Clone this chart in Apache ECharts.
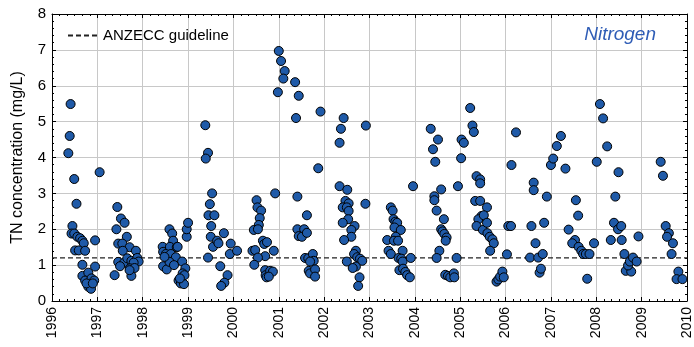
<!DOCTYPE html>
<html>
<head>
<meta charset="utf-8">
<script src="https://cdn.jsdelivr.net/npm/echarts@6/dist/echarts.min.js"></script>
<style>
html, body { margin: 0; padding: 0; background: #fff; }
#chart { width: 694px; height: 347px; }
</style>
</head>
<body>
<div id="chart"></div>
<script>
// TN samples: [decimal year, mg/L]
var samples = [
  // 1996
  [1996.41,5.49],[1996.39,4.60],[1996.36,4.12],[1996.49,3.40],[1996.54,2.71],[1996.45,2.09],
  [1996.43,1.88],[1996.49,1.88],[1996.56,1.79],[1996.62,1.75],[1996.67,1.68],[1996.70,1.61],
  [1996.51,1.41],[1996.59,1.41],[1996.73,1.40],[1996.95,1.69],[1996.67,1.01],[1996.95,0.96],
  [1996.67,0.70],[1996.80,0.79],[1996.73,0.57],[1996.87,0.63],[1996.93,0.57],[1996.80,0.40],
  [1996.86,0.34],[1996.76,0.49],[1996.90,0.49],
  // 1997
  [1997.05,3.59],[1997.38,0.72],[1997.44,2.62],[1997.52,2.30],[1997.60,2.18],[1997.42,2.00],
  [1997.65,1.79],[1997.46,1.60],[1997.55,1.60],[1997.71,1.50],[1997.56,1.40],[1997.85,1.40],
  [1997.46,1.09],[1997.59,1.07],[1997.66,1.19],[1997.75,1.12],[1997.88,1.20],[1997.91,1.10],
  [1997.80,1.07],[1997.50,0.97],[1997.72,0.91],[1997.82,0.92],[1997.75,0.70],[1997.71,0.86],
  // 1998
  [1998.44,1.51],[1998.45,1.37],[1998.59,2.00],[1998.65,1.88],[1998.67,1.68],[1998.60,1.51],
  [1998.75,1.50],[1998.51,1.31],[1998.62,1.31],[1998.73,1.22],[1998.87,1.10],[1998.45,0.97],
  [1998.53,0.88],[1998.59,1.09],[1998.69,1.00],[1998.94,0.91],[1998.88,0.77],[1998.79,0.57],
  [1998.84,0.49],[1998.91,0.47],[1998.92,0.72],[1998.82,0.63],[1998.97,1.79],[1998.97,2.00],
  [1999.00,2.18],[1998.48,1.23],[1998.77,1.51],
  // 1999
  [1999.44,1.21],[1999.38,4.90],[1999.44,4.13],[1999.39,3.97],[1999.53,3.00],[1999.48,2.70],
  [1999.45,2.39],[1999.58,2.39],[1999.51,2.09],[1999.50,1.79],[1999.55,1.51],[1999.64,1.68],
  [1999.67,1.61],[1999.79,1.89],[1999.71,0.97],[1999.87,0.72],[1999.80,0.51],[1999.73,0.42],
  [1999.94,1.60],[1999.92,1.31],
  // 2000
  [2000.08,1.40],[2000.51,2.81],[2000.53,2.61],[2000.61,2.52],[2000.58,2.31],[2000.56,2.12],
  [2000.45,1.98],[2000.54,2.00],[2000.65,1.68],[2000.68,1.59],[2000.42,1.40],[2000.48,1.42],
  [2000.70,1.25],[2000.54,1.21],[2000.46,1.01],[2000.70,0.86],[2000.71,0.72],[2000.73,0.66],
  [2000.74,1.64],[2000.89,1.40],[2000.81,0.84],[2000.87,0.82],[2000.78,0.68],[2000.92,3.00],
  [2000.98,5.82],
  // 2001
  [2001.00,6.97],[2001.05,6.69],[2001.13,6.41],[2001.10,6.20],[2001.36,6.10],[2001.44,5.72],
  [2001.38,5.10],[2001.92,5.28],[2001.87,3.70],[2001.41,2.91],[2001.62,2.39],[2001.41,2.00],
  [2001.56,2.00],[2001.44,1.81],[2001.51,1.79],[2001.62,1.90],[2001.58,1.20],[2001.65,1.19],
  [2001.75,1.31],[2001.77,1.12],[2001.69,1.10],[2001.66,0.84],[2001.69,0.77],[2001.80,0.88],
  [2001.80,0.68],
  // 2002
  [2002.34,4.41],[2002.37,4.80],[2002.43,5.10],[2002.92,4.89],[2002.34,3.20],[2002.51,3.10],
  [2002.47,2.79],[2002.54,2.72],[2002.41,2.61],[2002.50,2.61],[2002.54,2.51],[2002.91,2.71],
  [2002.53,2.28],[2002.41,2.18],[2002.67,2.09],[2002.60,1.98],[2002.60,1.79],[2002.44,1.70],
  [2002.70,1.40],[2002.66,1.31],[2002.73,1.22],[2002.79,1.18],[2002.84,1.12],[2002.50,1.10],
  [2002.70,0.96],[2002.63,0.92],[2002.78,0.66],[2002.75,0.42],
  // 2003
  [2003.39,1.70],[2003.47,2.61],[2003.51,2.52],[2003.53,2.28],[2003.57,2.21],[2003.61,2.18],
  [2003.55,2.05],[2003.69,1.98],[2003.58,1.79],[2003.54,1.68],[2003.63,1.68],[2003.42,1.40],
  [2003.47,1.31],[2003.73,1.40],[2003.64,1.20],[2003.70,1.18],[2003.73,1.10],[2003.91,1.20],
  [2003.66,0.86],[2003.74,0.90],[2003.79,0.81],[2003.83,0.72],[2003.89,0.66],[2003.96,3.20],
  // 2004
  [2004.35,4.80],[2004.40,4.23],[2004.45,3.88],[2004.51,4.50],[2004.43,2.92],[2004.43,2.81],
  [2004.58,3.11],[2004.48,2.52],[2004.64,2.28],[2004.58,2.00],[2004.61,1.94],[2004.65,1.87],
  [2004.70,1.77],[2004.68,1.68],[2004.54,1.40],[2004.48,1.20],[2004.67,0.73],[2004.73,0.70],
  [2004.78,0.66],[2004.86,0.77],[2004.87,0.66],[2004.92,1.20],[2004.95,3.20],
  // 2005
  [2005.02,3.98],[2005.03,4.50],[2005.08,4.41],[2005.22,5.38],[2005.27,4.89],[2005.30,4.71],
  [2005.36,3.48],[2005.44,3.39],[2005.44,3.28],[2005.33,2.79],[2005.44,2.79],[2005.47,2.37],
  [2005.40,2.28],[2005.36,2.09],[2005.50,1.98],[2005.59,2.61],[2005.52,2.39],[2005.59,2.18],
  [2005.60,1.89],[2005.65,1.79],[2005.71,1.72],[2005.74,1.61],[2005.66,1.40],
  [2005.80,0.54],[2005.84,0.60],[2005.88,0.68],[2005.93,0.82],[2005.96,0.66],
  // 2006
  [2006.03,1.30],[2006.06,2.09],[2006.12,2.09],[2006.13,3.79],[2006.23,4.70],[2006.57,2.09],
  [2006.62,3.30],[2006.62,3.09],[2006.91,2.91],[2006.66,1.61],[2006.85,2.18],[2006.54,1.21],
  [2006.72,1.21],[2006.82,1.31],[2006.75,0.79],[2006.78,0.90],[2007.00,3.79],[2007.05,3.97],
  [2007.13,4.32],[2007.22,4.60],[2007.32,3.69],
  // 2007
  [2007.55,2.81],[2007.60,2.38],[2007.39,1.99],[2007.53,1.70],[2007.47,1.61],[2007.61,1.51],
  [2007.67,1.40],[2007.71,1.31],[2007.77,1.31],[2007.80,0.62],[2007.85,1.31],[2007.95,1.61],
  [2008.01,3.88],[2008.08,5.49],[2008.15,5.09],[2008.24,4.31],
  // 2008
  [2008.49,3.59],[2008.42,2.91],[2008.39,2.18],[2008.48,2.00],[2008.55,2.09],[2008.32,1.70],
  [2008.56,1.70],[2008.62,1.31],[2008.93,1.80],[2008.65,0.84],[2008.77,0.82],[2008.70,0.99],
  [2008.74,1.10],[2008.81,1.21],[2008.89,1.10],
  // 2009
  [2009.42,3.88],[2009.47,3.49],[2009.53,2.09],[2009.60,1.89],[2009.56,1.79],[2009.69,1.61],
  [2009.66,1.31],[2009.81,0.82],[2009.77,0.61],[2009.90,0.61]
];

var guideline = 1.2;
var yearMin = 1996, yearMax = 2010;
var tnMin = 0, tnMax = 8;

var chart = echarts.init(document.getElementById('chart'));
var font = 'Liberation Sans, Arial, sans-serif';

var gridLine = { show: true, lineStyle: { color: '#c8c8c8', width: 1 } };
var frame = { show: true, onZero: false, lineStyle: { color: '#000', width: 1 } };

option = {
    backgroundColor: '#fff',
    animation: false,
    textStyle: { fontFamily: font },
    title: {
        text: 'Nitrogen',
        right: 33,
        top: 20,
        textStyle: { color: '#2f5db6', fontSize: 19, fontStyle: 'italic', fontWeight: 'normal', fontFamily: font }
    },
    legend: {
        left: 62,
        top: 23,
        itemWidth: 30,
        itemHeight: 10,
        itemGap: 5,
        data: ['ANZECC guideline'],
        textStyle: { color: '#000', fontSize: 15, fontFamily: font }
    },
    grid: { left: 52, right: 5, top: 14, bottom: 46 },
    xAxis: [
        {
            type: 'value', min: yearMin, max: yearMax, interval: 1,
            axisLine: frame,
            axisTick: { inside: true, length: 4, lineStyle: { color: '#000' } },
            minorTick: { show: true, splitNumber: 6, length: 2, lineStyle: { color: '#000' } },
            splitLine: gridLine,
            axisLabel: { rotate: 90, margin: 6, color: '#000', fontSize: 14, fontFamily: font,
                formatter: function (v) { return String(Math.round(v)); } }
        },
        {
            type: 'value', position: 'top', min: yearMin, max: yearMax, interval: 1,
            axisLine: frame,
            axisTick: { inside: true, length: 4, lineStyle: { color: '#000' } },
            minorTick: { show: true, splitNumber: 6, length: 2, lineStyle: { color: '#000' } },
            splitLine: { show: false },
            axisLabel: { show: false }
        }
    ],
    yAxis: [
        {
            type: 'value', min: tnMin, max: tnMax, interval: 1,
            name: 'TN concentration (mg/L)',
            nameLocation: 'middle',
            nameGap: 26,
            nameTextStyle: { color: '#000', fontSize: 16, fontFamily: font },
            axisLine: frame,
            axisTick: { inside: true, length: 4, lineStyle: { color: '#000' } },
            minorTick: { show: true, splitNumber: 5, length: 2, lineStyle: { color: '#000' } },
            splitLine: gridLine,
            axisLabel: { margin: 6, color: '#000', fontSize: 15, fontFamily: font }
        },
        {
            type: 'value', position: 'right', min: tnMin, max: tnMax, interval: 1,
            axisLine: frame,
            axisTick: { inside: true, length: 4, lineStyle: { color: '#000' } },
            minorTick: { show: true, splitNumber: 5, length: 2, lineStyle: { color: '#000' } },
            splitLine: { show: false },
            axisLabel: { show: false }
        }
    ],
    series: [
        {
            name: 'ANZECC guideline',
            type: 'line',
            symbol: 'none',
            data: [[yearMin, guideline], [yearMax, guideline]],
            lineStyle: { color: '#222', width: 1.3, type: [5, 3] },
            itemStyle: { color: 'rgba(0,0,0,0)', borderWidth: 0 },
            z: 3
        },
        {
            name: 'TN',
            type: 'scatter',
            symbol: 'circle',
            symbolSize: 9,
            data: samples,
            itemStyle: { color: '#1f5aa8', borderColor: '#000', borderWidth: 1, opacity: 1 },
            z: 4
        }
    ]
};

chart.setOption(option);
</script>
</body>
</html>
